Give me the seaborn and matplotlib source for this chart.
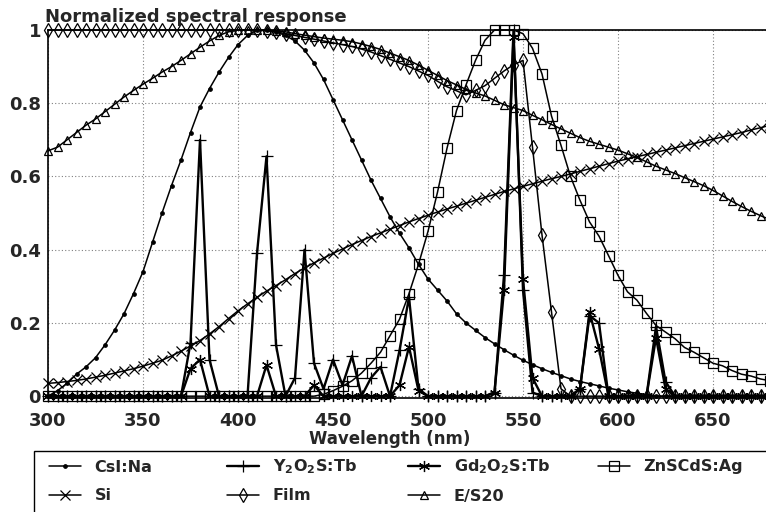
import numpy as np
import matplotlib
matplotlib.use("Agg")
import matplotlib.pyplot as plt
from matplotlib.patches import Rectangle
import seaborn as sns

# wavelength grid (nm), one sample every 5 nm
wl = np.arange(300, 685, 5)

csi_na = [0.0, 0.015, 0.035, 0.06, 0.08, 0.105, 0.14, 0.18, 0.225, 0.28,
          0.34, 0.42, 0.50, 0.575, 0.645, 0.72, 0.79, 0.84, 0.885, 0.925,
          0.96, 0.985, 1.0, 1.0, 0.995, 0.985, 0.97, 0.945, 0.91, 0.865,
          0.81, 0.755, 0.70, 0.645, 0.59, 0.54, 0.49, 0.445, 0.405, 0.36,
          0.32, 0.29, 0.26, 0.225, 0.20, 0.18, 0.16, 0.143, 0.127, 0.112,
          0.098, 0.086, 0.075, 0.065, 0.056, 0.047, 0.04, 0.034, 0.028, 0.022,
          0.017, 0.012, 0.008, 0.004, 0.0, 0.0, 0.0, 0.0, 0.0, 0.0,
          0.0, 0.0, 0.0, 0.0, 0.0, 0.0, 0.0]

si = [0.035, 0.037, 0.040, 0.043, 0.047, 0.052, 0.057, 0.063, 0.069, 0.075,
      0.082, 0.090, 0.098, 0.110, 0.123, 0.137, 0.152, 0.170, 0.190, 0.212,
      0.233, 0.252, 0.270, 0.287, 0.302, 0.318, 0.335, 0.350, 0.364, 0.377,
      0.390, 0.402, 0.414, 0.425, 0.436, 0.446, 0.456, 0.466, 0.476, 0.485,
      0.494, 0.503, 0.511, 0.519, 0.527, 0.535, 0.543, 0.551, 0.559, 0.566,
      0.573, 0.580, 0.587, 0.594, 0.600, 0.607, 0.614, 0.621, 0.628, 0.635,
      0.642, 0.648, 0.654, 0.660, 0.666, 0.672, 0.678, 0.684, 0.690, 0.696,
      0.702, 0.708, 0.714, 0.720, 0.727, 0.733, 0.740]

film = [1.0, 1.0, 1.0, 1.0, 1.0, 1.0, 1.0, 1.0, 1.0, 1.0,
        1.0, 1.0, 1.0, 1.0, 1.0, 1.0, 1.0, 1.0, 1.0, 1.0,
        1.0, 1.0, 1.0, 0.998, 0.995, 0.99, 0.985, 0.98, 0.975, 0.97,
        0.965, 0.96, 0.955, 0.948, 0.94, 0.93, 0.92, 0.91, 0.90, 0.888,
        0.876, 0.86, 0.845, 0.834, 0.823, 0.835, 0.848, 0.868, 0.888, 0.905,
        0.917, 0.68, 0.44, 0.23, 0.02, 0.0, 0.0, 0.0, 0.0, 0.0,
        0.0, 0.0, 0.0, 0.0, 0.0, 0.0, 0.0, 0.0, 0.0, 0.0,
        0.0, 0.0, 0.0, 0.0, 0.0, 0.0, 0.0]

es20 = [0.67, 0.68, 0.70, 0.72, 0.74, 0.757, 0.777, 0.797, 0.817, 0.835,
        0.852, 0.868, 0.885, 0.90, 0.917, 0.935, 0.953, 0.97, 0.985, 0.995,
        1.0, 1.0, 1.0, 1.0, 0.998, 0.995, 0.99, 0.986, 0.982, 0.978,
        0.975, 0.972, 0.968, 0.962, 0.955, 0.947, 0.937, 0.927, 0.917, 0.904,
        0.89, 0.876, 0.862, 0.85, 0.838, 0.828, 0.82, 0.808, 0.796, 0.788,
        0.78, 0.767, 0.755, 0.742, 0.73, 0.718, 0.706, 0.696, 0.688, 0.68,
        0.672, 0.662, 0.652, 0.64, 0.628, 0.618, 0.608, 0.597, 0.586, 0.575,
        0.562, 0.547, 0.532, 0.518, 0.505, 0.493, 0.482]

znscds = [0.0, 0.0, 0.0, 0.0, 0.0, 0.0, 0.0, 0.0, 0.0, 0.0,
          0.0, 0.0, 0.0, 0.0, 0.0, 0.0, 0.0, 0.0, 0.0, 0.0,
          0.0, 0.0, 0.0, 0.0, 0.0, 0.0, 0.0, 0.0, 0.0, 0.005,
          0.015, 0.027, 0.042, 0.063, 0.09, 0.12, 0.165, 0.21, 0.28, 0.36,
          0.45, 0.557, 0.677, 0.78, 0.85, 0.917, 0.972, 1.0, 1.0, 1.0,
          0.99, 0.95, 0.88, 0.765, 0.685, 0.6, 0.535, 0.476, 0.437, 0.384,
          0.33, 0.285, 0.262, 0.226, 0.193, 0.175, 0.157, 0.133, 0.12, 0.105,
          0.09, 0.083, 0.07, 0.06, 0.055, 0.047, 0.042]

# line phosphors: only the non-zero samples, zero everywhere else
y2o2s_nm = [375, 380, 385, 410, 415, 420, 430, 435, 440, 445, 450, 455, 460,
            470, 475, 485, 490, 495, 535, 540, 545, 550, 555, 580, 585, 590, 620, 625]
y2o2s_val = [0.145, 0.70, 0.10, 0.39, 0.655, 0.14, 0.05, 0.40, 0.09, 0.02, 0.10, 0.03, 0.11,
             0.05, 0.08, 0.125, 0.27, 0.02, 0.01, 0.33, 1.0, 0.29, 0.01, 0.02, 0.22, 0.20, 0.19, 0.04]

gd2o2s_nm = [375, 380, 415, 440, 485, 490, 495, 535, 540, 545, 550, 555,
             580, 585, 590, 620, 625]
gd2o2s_val = [0.075, 0.10, 0.085, 0.03, 0.03, 0.135, 0.015, 0.01, 0.29, 0.98, 0.32, 0.05,
              0.02, 0.23, 0.13, 0.16, 0.02]


def spectrum(nm, val):
    out = np.zeros(len(wl))
    for n, v in zip(nm, val):
        out[list(wl).index(n)] = v
    return out


y2o2s = spectrum(y2o2s_nm, y2o2s_val)
gd2o2s = spectrum(gd2o2s_nm, gd2o2s_val)

sns.set_style("white")
plt.rcParams["font.family"] = ["DejaVu Sans"]
plt.rcParams["font.weight"] = "bold"

fig = plt.figure(figsize=(7.66, 5.12), dpi=100)
ax = fig.add_axes([48 / 766, 114 / 512, 722 / 766, 368 / 512])

series = [
    ("CsI:Na", csi_na, dict(marker="o", markersize=2.5, markerfacecolor="black", lw=1.1)),
    (r"Y$_\mathbf{2}$O$_\mathbf{2}$S:Tb", y2o2s, dict(marker="+", markersize=9, lw=1.7)),
    (r"Gd$_\mathbf{2}$O$_\mathbf{2}$S:Tb", gd2o2s, dict(marker=(6, 2, 0), markersize=8, lw=1.7)),
    ("ZnSCdS:Ag", znscds, dict(marker="s", markersize=6.5, markerfacecolor="none", lw=1.1)),
    ("Si", si, dict(marker="x", markersize=6.5, lw=1.1)),
    ("Film", film, dict(marker="d", markersize=7.5, markerfacecolor="none", lw=1.1)),
    ("E/S20", es20, dict(marker="^", markersize=6, markerfacecolor="none", lw=1.1)),
]

for name, vals, kw in series:
    sns.lineplot(x=wl, y=vals, ax=ax, color="black", markeredgecolor="black",
                 markeredgewidth=0.9, label=name, clip_on=False, **kw)

ax.set_xlim(300, 680)
ax.set_ylim(-0.005, 1.0)
ax.set_xticks(range(300, 651, 50))
ax.set_yticks([0, 0.2, 0.4, 0.6, 0.8, 1.0])
ax.set_yticklabels(["0", "0.2", "0.4", "0.6", "0.8", "1"])
ax.tick_params(axis="both", length=0, labelsize=13)
ax.tick_params(axis="x", pad=10)
ax.tick_params(axis="y", pad=5)
ax.grid(True, linestyle=(0, (1, 2)), color="#808080", linewidth=0.8)
for side in ["left", "bottom", "top"]:
    ax.spines[side].set_color("black")
    ax.spines[side].set_linewidth(1.2)
ax.spines["right"].set_visible(False)
ax.set_xlabel("")
ax.set_ylabel("")

fig.text(45 / 766, 1 - 22 / 512, "Normalized spectral response",
         fontsize=13, weight="bold", ha="left", va="baseline")
fig.text(390 / 766, 1 - 444 / 512, "Wavelength (nm)",
         fontsize=12, weight="bold", ha="center", va="baseline")

# legend: a plain box with two rows of four fixed-width columns
handles, labels = ax.get_legend_handles_labels()
ax.get_legend().remove()
fig.add_artist(Rectangle((34 / 766, -0.05), 1.0, (512 - 451) / 512 + 0.05,
                         transform=fig.transFigure, fill=False,
                         edgecolor="black", linewidth=1.0))
col_x = [49, 227, 408, 598]
row_y = [467, 496]
slots = [(0, 0), (0, 1), (0, 2), (0, 3), (1, 0), (1, 1), (1, 2)]
for h, lab, (r, c) in zip(handles, labels, slots):
    fig.legend([h], [lab], loc="center left",
               bbox_to_anchor=(col_x[c] / 766, 1 - row_y[r] / 512),
               frameon=False, fontsize=11.5, handlelength=2.0,
               handletextpad=0.85, borderpad=0, borderaxespad=0)

fig.savefig("out.png", dpi=100)
